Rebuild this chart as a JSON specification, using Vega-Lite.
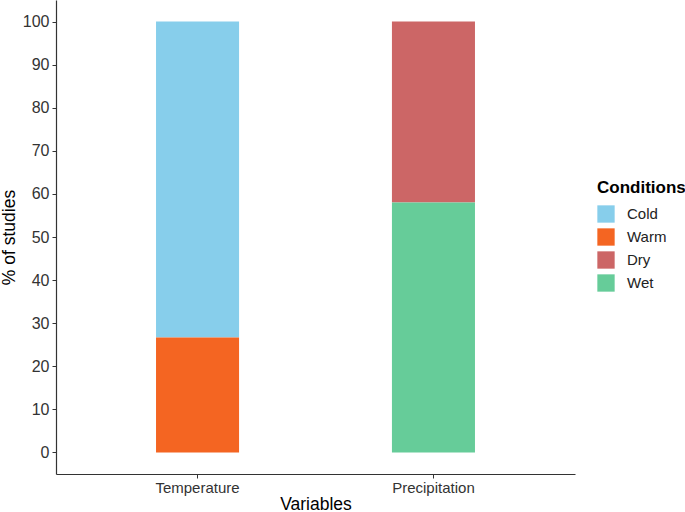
{
  "$schema": "https://vega.github.io/schema/vega-lite/v6.json",
  "width": 519,
  "height": 474,
  "autosize": "none",
  "padding": {"left": 56, "top": 0, "right": 110, "bottom": 38},
  "background": "white",
  "config": {
    "font": "Liberation Sans",
    "view": {"stroke": null}
  },
  "data": {
    "values": [
      {"Variable": "Temperature", "Condition": "Cold", "Percent": 73.3},
      {"Variable": "Temperature", "Condition": "Warm", "Percent": 26.7},
      {"Variable": "Precipitation", "Condition": "Dry", "Percent": 42},
      {"Variable": "Precipitation", "Condition": "Wet", "Percent": 58}
    ]
  },
  "mark": {"type": "bar"},
  "encoding": {
    "x": {
      "field": "Variable",
      "type": "nominal",
      "sort": ["Temperature", "Precipitation"],
      "scale": {"paddingInner": 0.648, "paddingOuter": 0.424},
      "axis": {
        "title": "Variables",
        "titleFontSize": 17.5,
        "titleFontWeight": "normal",
        "titleColor": "black",
        "titlePadding": 0,
        "labelAngle": 0,
        "labelFontSize": 15,
        "labelColor": "#333333",
        "labelPadding": 2,
        "tickSize": 4,
        "tickColor": "#333333",
        "domainColor": "#333333",
        "domainWidth": 1.2
      }
    },
    "y": {
      "field": "Percent",
      "type": "quantitative",
      "stack": "zero",
      "scale": {"domain": [-5, 105], "nice": false, "zero": false},
      "axis": {
        "title": "% of studies",
        "titleFontSize": 17.5,
        "titleFontWeight": "normal",
        "titleColor": "black",
        "titlePadding": 4,
        "values": [0, 10, 20, 30, 40, 50, 60, 70, 80, 90, 100],
        "grid": false,
        "labelFontSize": 16,
        "labelColor": "#333333",
        "labelPadding": 3,
        "tickSize": 4,
        "tickColor": "#333333",
        "domainColor": "#333333",
        "domainWidth": 1.2
      }
    },
    "color": {
      "field": "Condition",
      "type": "nominal",
      "scale": {
        "domain": ["Cold", "Warm", "Dry", "Wet"],
        "range": ["#87CEEB", "#F46522", "#CC6666", "#66CC99"]
      },
      "legend": {
        "title": "Conditions",
        "titleFontSize": 17,
        "titleFontWeight": "bold",
        "titleColor": "black",
        "titlePadding": 8,
        "labelFontSize": 15,
        "labelColor": "#222222",
        "labelOffset": 12,
        "symbolType": "square",
        "symbolSize": 300,
        "symbolStrokeWidth": 0,
        "symbolOpacity": 1,
        "rowPadding": 5,
        "orient": "none",
        "legendX": 541,
        "legendY": 180
      }
    },
    "order": {"field": "Condition", "sort": "descending"}
  }
}
